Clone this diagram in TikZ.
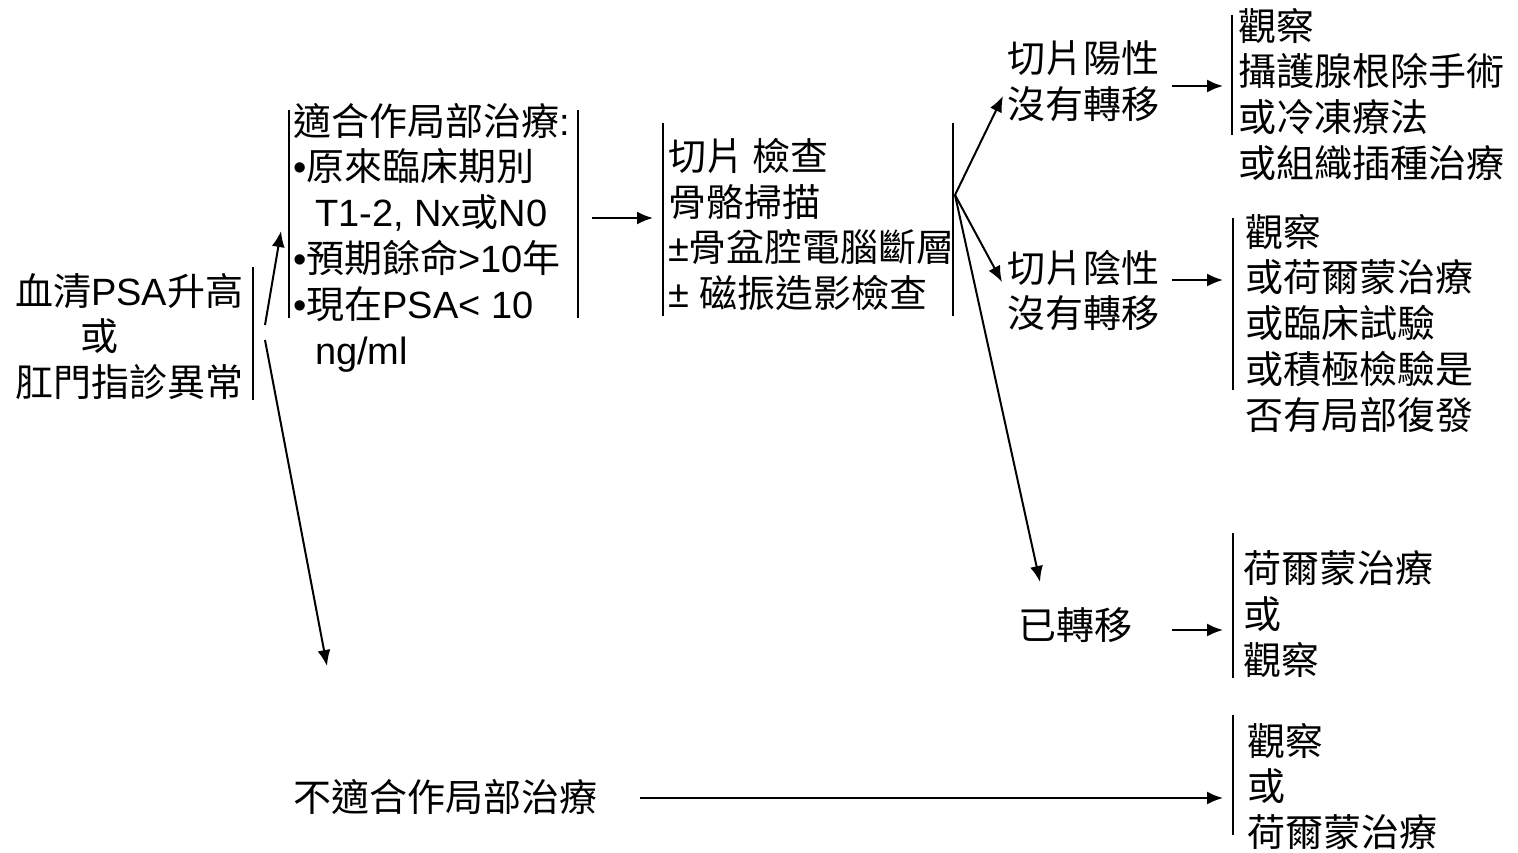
\documentclass[tikz,border=0pt]{standalone}
\usepackage{fontspec}
\setmainfont{Liberation Sans}
\newfontfamily\cjk{Noto Sans CJK TC}
\usetikzlibrary{arrows.meta}
\makeatletter
\XeTeXinterchartokenstate=1
\count@="2E80
\loop\ifnum\count@<"A000 \XeTeXcharclass\count@=7 \advance\count@ 1 \repeat
\count@="FF00
\loop\ifnum\count@<"FFF0 \XeTeXcharclass\count@=7 \advance\count@ 1 \repeat
\makeatother
\XeTeXinterchartoks 0 7 = {\cjk}
\XeTeXinterchartoks 4095 7 = {\cjk}
\XeTeXinterchartoks 7 0 = {\rmfamily}
\XeTeXinterchartoks 4095 0 = {\rmfamily}
\tikzset{
  txt/.style={anchor=north west, align=left, inner sep=0pt, outer sep=0pt,
    font=\fontsize{19}{22.9}\selectfont},
  bar/.style={line width=0.9pt},
  arr/.style={line width=1pt, -{Latex[length=8pt,width=6.5pt]}},
}
\begin{document}
\begin{tikzpicture}[x=0.5pt,y=-0.5pt]
\useasboundingbox (0,0) rectangle (1518,852);
% text nodes
\node[txt] (src) at (15,273) {血清PSA升高\\\hspace{32.5pt}或\\肛門指診異常};
\node[txt] (fit) at (293,103) {適合作局部治療:\\•原來臨床期別\\\hspace{11pt}T1-2, Nx或N0\\•預期餘命>10年\\•現在PSA< 10\\\hspace{11pt}ng/ml};
\node[txt] (exam) at (668,138) {切片 檢查\\骨骼掃描\\±骨盆腔電腦斷層\\± 磁振造影檢查};
\node[txt] (pos) at (1007,41) {切片陽性\\沒有轉移};
\node[txt] (neg) at (1007,250) {切片陰性\\沒有轉移};
\node[txt] (meta) at (1018,608) {已轉移};
\node[txt] (nofit) at (293,779) {不適合作局部治療};
\node[txt] (rpos) at (1238,8) {觀察\\攝護腺根除手術\\或冷凍療法\\或組織插種治療};
\node[txt] (rneg) at (1245,214) {觀察\\或荷爾蒙治療\\或臨床試驗\\或積極檢驗是\\否有局部復發};
\node[txt] (rmeta) at (1243,551) {荷爾蒙治療\\或\\觀察};
\node[txt] (rnofit) at (1247,723) {觀察\\或\\荷爾蒙治療};
% bars
\coordinate (srcR1) at (253,267); \coordinate (srcR2) at (253,400);
\coordinate (fitL1) at (289,110); \coordinate (fitL2) at (289,318);
\coordinate (fitR1) at (578,110); \coordinate (fitR2) at (578,318);
\coordinate (examL1) at (663,123); \coordinate (examL2) at (663,316);
\coordinate (examR1) at (953,123); \coordinate (examR2) at (953,316);
\coordinate (rposL1) at (1232,15); \coordinate (rposL2) at (1232,135);
\coordinate (rnegL1) at (1233,218); \coordinate (rnegL2) at (1233,390);
\coordinate (rmetaL1) at (1233,533); \coordinate (rmetaL2) at (1233,678);
\coordinate (rnofitL1) at (1233,715); \coordinate (rnofitL2) at (1233,835);
\draw[bar] (srcR1) -- (srcR2);
\draw[bar] (fitL1) -- (fitL2);
\draw[bar] (fitR1) -- (fitR2);
\draw[bar] (examL1) -- (examL2);
\draw[bar] (examR1) -- (examR2);
\draw[bar] (rposL1) -- (rposL2);
\draw[bar] (rnegL1) -- (rnegL2);
\draw[bar] (rmetaL1) -- (rmetaL2);
\draw[bar] (rnofitL1) -- (rnofitL2);
% arrows
\coordinate (up0) at (265,325); \coordinate (up1) at (281,231);
\coordinate (dn0) at (265,340); \coordinate (dn1) at (327,666);
\coordinate (fe0) at (592,218); \coordinate (fe1) at (653,218);
\coordinate (fan) at (955,195);
\coordinate (fpos) at (1003,96); \coordinate (fneg) at (1002,282); \coordinate (fmeta) at (1040,582);
\coordinate (p0) at (1172,86); \coordinate (p1) at (1223,86);
\coordinate (n0) at (1172,280); \coordinate (n1) at (1223,280);
\coordinate (m0) at (1172,630); \coordinate (m1) at (1223,630);
\coordinate (nf0) at (640,798); \coordinate (nf1) at (1223,798);
\draw[arr] (up0) -- (up1);
\draw[arr] (dn0) -- (dn1);
\draw[arr] (fe0) -- (fe1);
\draw[arr] (fan) -- (fpos);
\draw[arr] (fan) -- (fneg);
\draw[arr] (fan) -- (fmeta);
\draw[arr] (p0) -- (p1);
\draw[arr] (n0) -- (n1);
\draw[arr] (m0) -- (m1);
\draw[arr] (nf0) -- (nf1);
\end{tikzpicture}
\end{document}
